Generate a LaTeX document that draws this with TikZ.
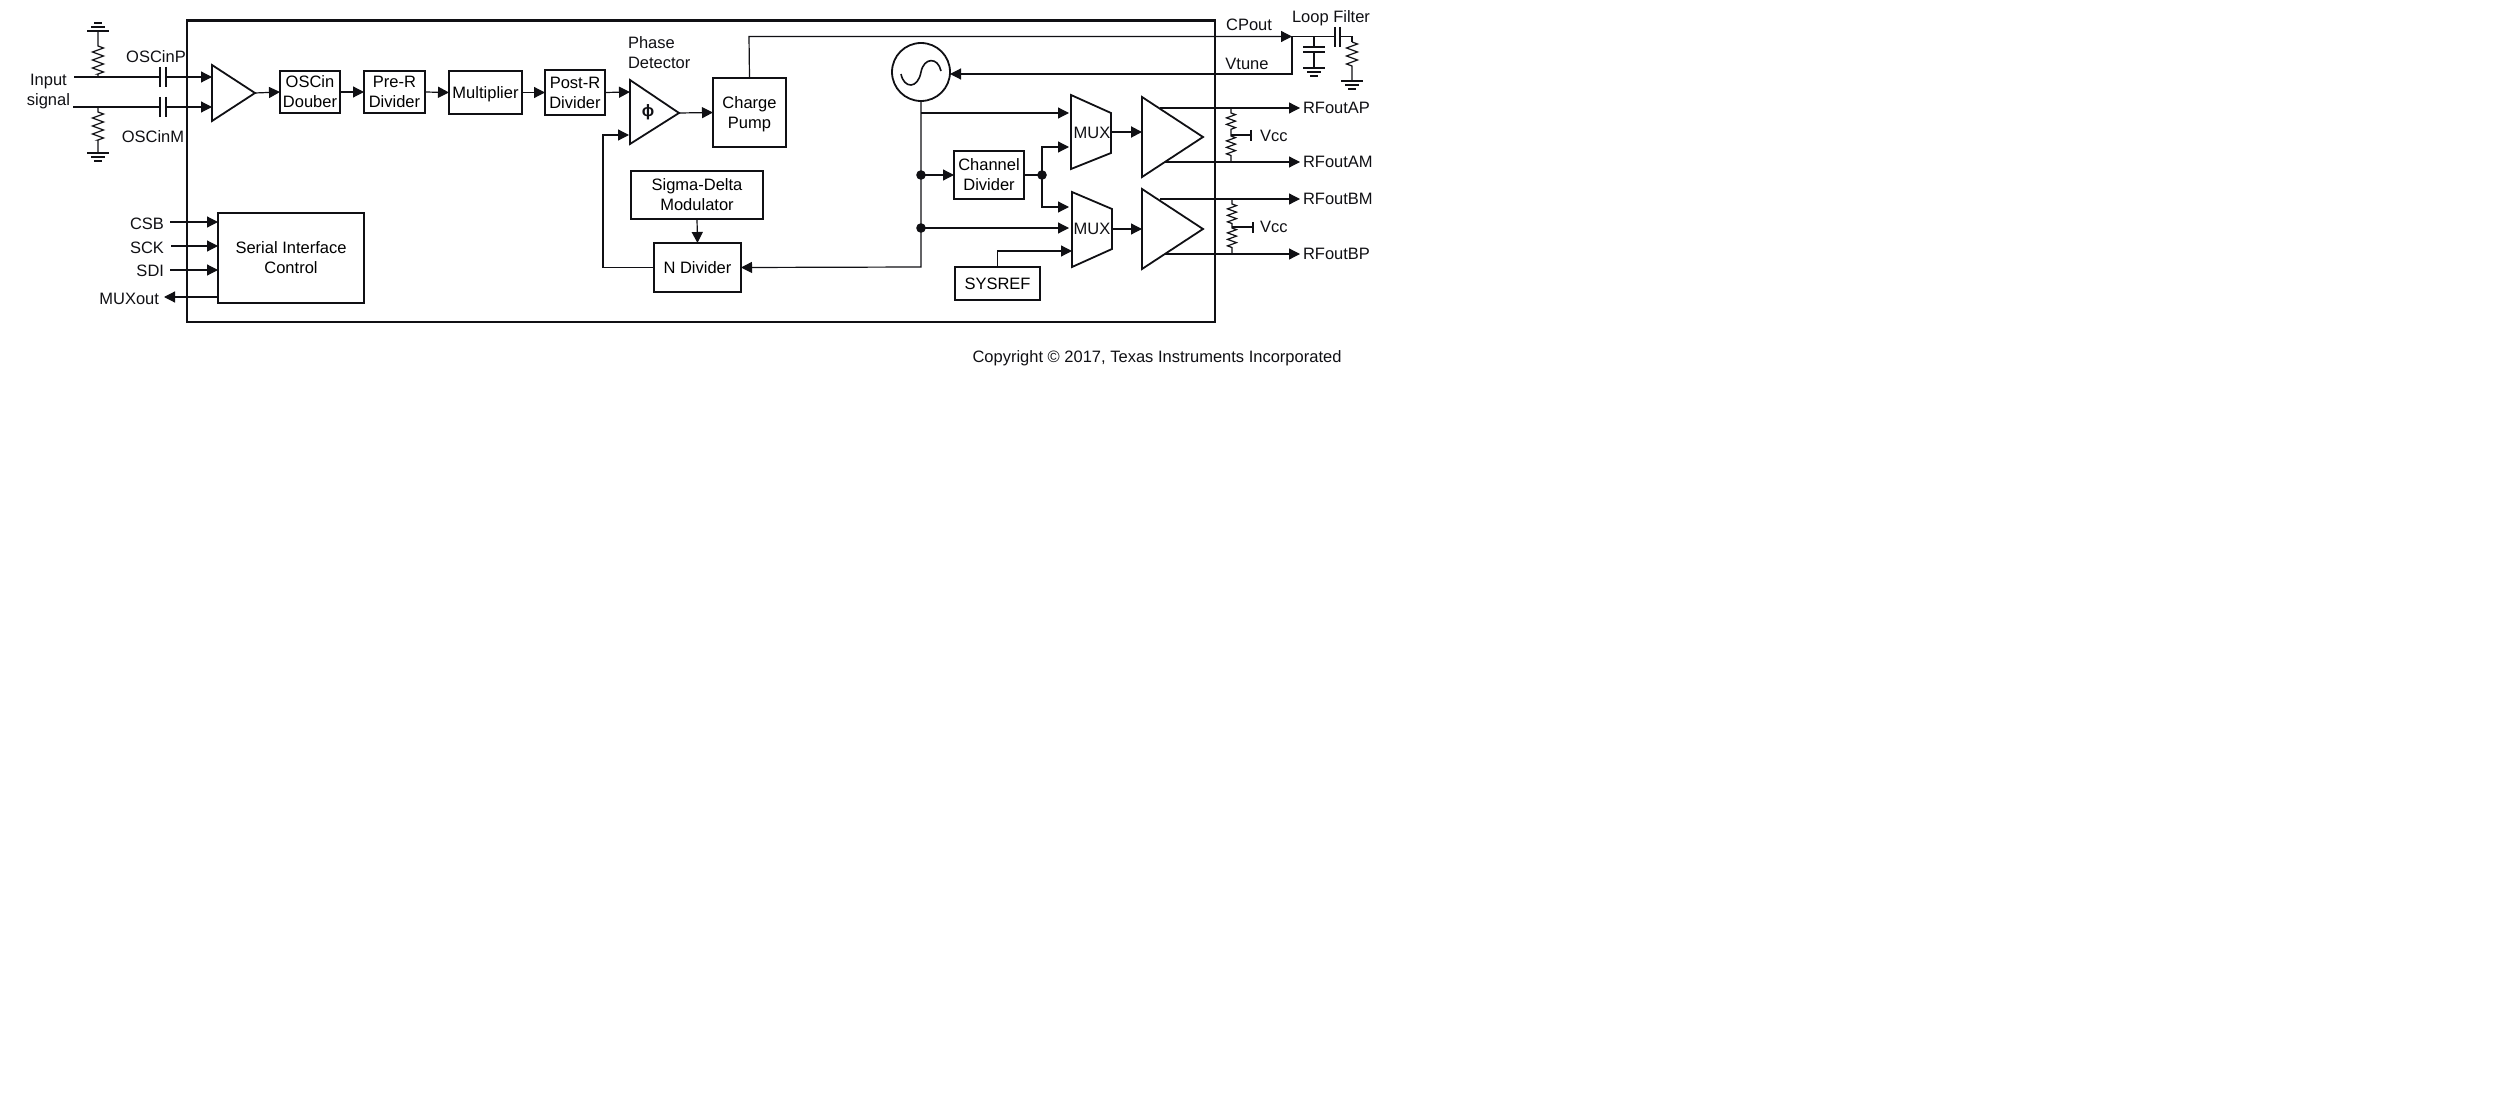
\documentclass[tikz,border=0pt]{standalone}
\usepackage{fontspec}
\setmainfont{Liberation Sans}
\usetikzlibrary{arrows.meta,calc,decorations.pathmorphing}
\definecolor{ink}{HTML}{101014}
\tikzset{
  wire/.style={draw=ink,line width=1.2pt},
  sig/.style={wire,-{Triangle[length=11pt,width=11pt]}},
  blockbox/.style={draw=ink,line width=1.8pt,align=center,inner sep=0pt,outer sep=0pt,fill=white,text depth=0pt},
  lbl/.style={inner sep=0pt,outer sep=0pt,align=center,text=ink,text depth=0pt},
  part/.style={draw=ink,line width=1.8pt,fill=white,line join=miter},
  zz/.style={decoration={zigzag,segment length=8pt,amplitude=5.5pt}},
  zs/.style={decoration={zigzag,segment length=6.5pt,amplitude=4.5pt}},
}
\begin{document}
\begin{tikzpicture}[x=1pt,y=-1pt,font=\fontsize{16.5}{20}\selectfont]
\useasboundingbox (0,0) rectangle (2515,1097);
% chip outline
\draw[ink,line width=2.2pt] (187,20.5) rectangle (1215,322);

% fixed points
\coordinate (inP) at (74,77);
\coordinate (inM) at (73,107);
\coordinate (capPa) at (160,77);
\coordinate (capPb) at (166,77);
\coordinate (capMa) at (160,107);
\coordinate (capMb) at (166,107);
\coordinate (ampP) at (212,77);
\coordinate (ampM) at (212,107);
\coordinate (ampTip) at (255,93);
\coordinate (pdA) at (630,92);
\coordinate (pdB) at (629,135);
\coordinate (pdTip) at (679,113);
\coordinate (cpTurn) at (749,36.5);
\coordinate (loopNode) at (1292,36.5);
\coordinate (vtuneTurn) at (1292,74);
\coordinate (fbTurn) at (603,135);
\coordinate (vcoTurn) at (921,267);
\coordinate (dotA) at (921,175);
\coordinate (dotB) at (921,228);
\coordinate (dotC) at (1042,175);

% blocks
\node[blockbox,minimum width=60,minimum height=42] (doubler) at (310,92) {OSCin\\Douber};
\node[blockbox,minimum width=61,minimum height=42] (prediv) at (394.5,92) {Pre-R\\Divider};
\node[blockbox,minimum width=73,minimum height=43] (mult) at (485.5,92.5) {Multiplier};
\node[blockbox,minimum width=60,minimum height=45] (postdiv) at (575,92.5) {Post-R\\Divider};
\node[blockbox,minimum width=73,minimum height=69] (pump) at (749.5,112.5) {Charge\\Pump};
\node[blockbox,minimum width=132,minimum height=48] (sdm) at (697,195) {Sigma-Delta\\Modulator};
\node[blockbox,minimum width=87,minimum height=49] (ndiv) at (697.5,267.5) {N Divider};
\node[blockbox,minimum width=146,minimum height=90] (serial) at (291,258) {Serial Interface\\Control};
\node[blockbox,minimum width=70,minimum height=48] (chdiv) at (989,175) {Channel\\Divider};
\node[blockbox,minimum width=85,minimum height=33] (sysref) at (997.5,283.5) {SYSREF};
\node[circle,draw=ink,line width=1.8pt,minimum size=58,inner sep=0pt,outer sep=0pt] (vco) at (921,72) {};
\draw[ink,line width=1.6pt,shift={(vco.center)}] (-20,2) .. controls (-17,17) and (-3,17) .. (0,0)
  .. controls (3,-15) and (17,-15) .. (20,-1);

% amplifiers and muxes
\draw[part] (212,65) -- (212,121) -- (ampTip) -- cycle;
\draw[part] (630,80) -- (630,144) -- (pdTip) -- cycle;
\node[lbl] (phi) at (648,111) {\bfseries ϕ};
\draw[part] (1071,95) -- (1111,113) -- (1111,153) -- (1071,169) -- cycle;
\draw[part] (1072,192) -- (1112,209) -- (1112,249) -- (1072,267) -- cycle;
\node[lbl] (muxA) at (1092,133) {MUX};
\node[lbl] (muxB) at (1092,229) {MUX};
\draw[part] (1142,97) -- (1142,177) -- (1203,137) -- cycle;
\draw[part] (1142,189) -- (1142,269) -- (1203,229) -- cycle;

% signal path
\draw[sig] (inP) -- (capPa) (capPb) -- (ampP);
\draw[sig] (inM) -- (capMa) (capMb) -- (ampM);
\draw[sig] (ampTip) -- (doubler.west);
\draw[sig] (doubler.east) -- (prediv.west);
\draw[sig] (prediv.east) -- (mult.west);
\draw[sig] (mult.east) -- (postdiv.west);
\draw[sig] (postdiv.east) -- (pdA);
\draw[sig] (pdTip) -- (pump.west);
\draw[sig] (pump.north) -- (cpTurn) -- (loopNode);
\draw[sig] (loopNode) -- (vtuneTurn) -- (vco.east |- vtuneTurn);
\draw[sig] (sdm.south) -- (ndiv.north);
\draw[sig] (ndiv.west) -- (fbTurn |- ndiv.west) -- (fbTurn) -- (pdB);
\draw[sig] (vco.south) -- (vcoTurn) -- (ndiv.east);
\draw[sig] (dotA) -- (chdiv.west);
\draw[wire] (chdiv.east) -- (dotC);
\draw[sig] (dotC) -- (1042,147) -- (1069,147);
\draw[sig] (dotC) -- (1042,207) -- (1069,207);
\draw[sig] (921,113) -- (1069,113);
\draw[sig] (dotB) -- (1069,228);
\draw[sig] (sysref.north) -- (997.5,251) -- (1072,251);
\draw[sig,line width=2pt] (1111,132) -- (1142,132);
\draw[sig] (1112,229) -- (1142,229);
\foreach \dotname in {dotA,dotB,dotC}
  \fill[ink] (\dotname) circle (4.8);

% coupling and filter capacitors
\foreach \platex/\platey/\platelen in {160/77/10,166/77/10,160/107/10,166/107/10,1335/37/10,1340/37/10}
  \draw[ink,line width=1.5pt] (\platex,\platey-\platelen) -- (\platex,\platey+\platelen);
\draw[wire] (loopNode) -- (1335,36.5);
\draw[wire] (1340,36.5) -- (1352,36.5) -- (1352,42);
\draw[wire] (1314,36.5) -- (1314,47);
\draw[wire] (1314,52) -- (1314,68);
\draw[ink,line width=1.5pt] (1303,47) -- (1325,47) (1303,52) -- (1325,52);

% resistors
\draw[wire] (98,31) -- (98,46) decorate[zz]{-- (98,74)} -- (98,77);
\draw[wire] (98,107) -- (98,112) decorate[zz]{-- (98,140)} -- (98,153);
\draw[wire] (1352,42) decorate[zz]{-- (1352,68)} -- (1352,81);
\draw[wire] (1231,108) -- (1231,113) decorate[zs]{-- (1231,132)} -- (1231,136) decorate[zs]{-- (1231,157)} -- (1231,162);
\draw[wire] (1232,199) -- (1232,204) decorate[zs]{-- (1232,224)} -- (1232,228) decorate[zs]{-- (1232,249)} -- (1232,254);
\draw[wire] (1231,135) -- (1251,135);
\draw[wire] (1232,227) -- (1253,227);
\draw[ink,line width=1.5pt] (1251,130) -- (1251,141) (1253,222) -- (1253,233);

% grounds
\foreach \gndx/\gndy/\gnddir in {98/31/-1,98/153/1,1314/68/1,1352/81/1} {
  \draw[ink,line width=1.4pt] (\gndx-11,\gndy) -- (\gndx+11,\gndy);
  \draw[ink,line width=1.4pt] (\gndx-7,\gndy+\gnddir*4) -- (\gndx+7,\gndy+\gnddir*4);
  \draw[ink,line width=1.4pt] (\gndx-4,\gndy+\gnddir*8) -- (\gndx+4,\gndy+\gnddir*8);
}

% serial port
\coordinate (csbIn) at (170,222);
\coordinate (sckIn) at (171,246);
\coordinate (sdiIn) at (170,270);
\coordinate (muxOut) at (164,297);
\draw[sig] (csbIn) -- (serial.west |- csbIn);
\draw[sig] (sckIn) -- (serial.west |- sckIn);
\draw[sig] (sdiIn) -- (serial.west |- sdiIn);
\draw[sig] (serial.west |- muxOut) -- (muxOut);

% outputs
\foreach \outy/\outx/\outname/\outtext in {108/1160/ap/RFoutAP,162/1165/am/RFoutAM,199/1160/bm/RFoutBM,254/1165/bp/RFoutBP} {
  \node[lbl,anchor=west] (\outname) at (1303,\outy) {\outtext};
  \draw[sig,shorten >=3pt] (\outx,\outy) -- (\outname.west |- 0,\outy);
}

% labels
\node[lbl] (oscp) at (156,57) {OSCinP};
\node[lbl] (oscm) at (153,137) {OSCinM};
\node[lbl,anchor=east] (insig) at (70,90) {Input\\signal};
\node[lbl,anchor=east] (csb) at (164,224) {CSB};
\node[lbl,anchor=east] (sck) at (164,248) {SCK};
\node[lbl,anchor=east] (sdi) at (164,271) {SDI};
\node[lbl,anchor=east] (muxo) at (159,299) {MUXout};
\node[lbl,align=left,anchor=west] (pdlbl) at (628,53) {Phase\\Detector};
\node[lbl] (cpout) at (1249,25) {CPout};
\node[lbl] (vtune) at (1247,64) {Vtune};
\node[lbl] (loopf) at (1331,17) {Loop Filter};
\node[lbl,anchor=west] (vccA) at (1260,136) {Vcc};
\node[lbl,anchor=west] (vccB) at (1260,227) {Vcc};
\node[lbl] (copy) at (1157,357) {Copyright © 2017, Texas Instruments Incorporated};
\end{tikzpicture}
\end{document}
